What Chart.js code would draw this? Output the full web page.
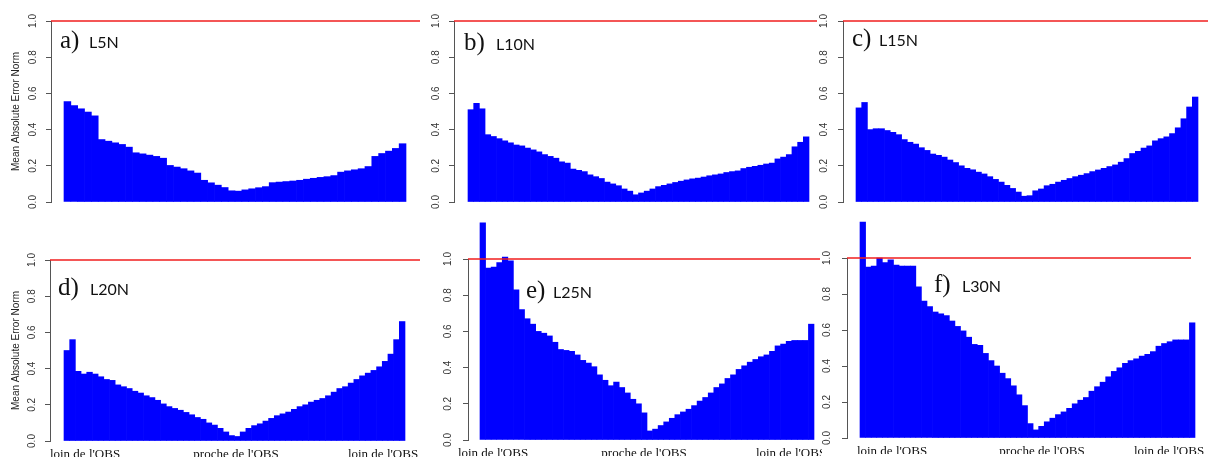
<!DOCTYPE html>
<html>
<head>
<meta charset="utf-8">
<script src="https://cdn.jsdelivr.net/npm/chart.js@4.4.1/dist/chart.umd.min.js"></script>
<style>
  body { margin: 0; background: #fff; }
  #fig { position: relative; width: 1208px; height: 459px; overflow: hidden; }
  #fig canvas { position: absolute; }
</style>
</head>
<body>
<div id="fig"></div>
<script>
const yTicks = [0, 0.2, 0.4, 0.6, 0.8, 1.0];
const xTickLabels = ["loin de l'OBS", "proche de l'OBS", "loin de l'OBS"];
const refLevel = 1.0;
const yTitle = 'Mean Absolute Error Norm';

// one value per bar, from left (far) through the OBS to right (far)
const l5n = [
  0.555, 0.533, 0.515, 0.497, 0.476,
  0.345, 0.336, 0.327, 0.318, 0.303,
  0.272, 0.266, 0.259, 0.252, 0.242,
  0.202, 0.193, 0.184, 0.172, 0.160,
  0.120, 0.106, 0.093, 0.080, 0.062,
  0.060, 0.067, 0.073, 0.079, 0.085,
  0.107, 0.110, 0.113, 0.116, 0.120,
  0.126, 0.131, 0.136, 0.140, 0.146,
  0.165, 0.172, 0.178, 0.184, 0.196,
  0.252, 0.268, 0.281, 0.296, 0.322
];
const l10n = [
  0.510, 0.545, 0.515, 0.372, 0.362, 0.350, 0.338, 0.327, 0.315, 0.310,
  0.298, 0.288, 0.277, 0.262, 0.252, 0.242, 0.222, 0.215, 0.182, 0.175,
  0.168, 0.150, 0.140, 0.130, 0.110, 0.100, 0.090, 0.072, 0.060, 0.040,
  0.050, 0.060, 0.072, 0.085, 0.092, 0.100, 0.108, 0.115, 0.122, 0.128,
  0.132, 0.138, 0.145, 0.150, 0.155, 0.163, 0.168, 0.172, 0.185, 0.192,
  0.197, 0.203, 0.210, 0.215, 0.238, 0.248, 0.262, 0.305, 0.330, 0.360
];
const l15n = [
  0.520, 0.550, 0.400, 0.405, 0.405, 0.395, 0.385, 0.372, 0.345, 0.330,
  0.320, 0.300, 0.285, 0.265, 0.258, 0.248, 0.232, 0.218, 0.200, 0.186,
  0.178, 0.165, 0.155, 0.140, 0.125, 0.110, 0.092, 0.075, 0.055, 0.032,
  0.035, 0.062, 0.072, 0.090, 0.098, 0.110, 0.120, 0.130, 0.140, 0.148,
  0.157, 0.168, 0.177, 0.186, 0.196, 0.205, 0.220, 0.240, 0.268, 0.280,
  0.298, 0.310, 0.338, 0.350, 0.360, 0.378, 0.410, 0.460, 0.525, 0.580
];
const l20n = [
  0.500, 0.560, 0.385, 0.370, 0.380, 0.370, 0.355, 0.340, 0.335, 0.310,
  0.300, 0.290, 0.275, 0.265, 0.250, 0.240, 0.225, 0.205, 0.190, 0.180,
  0.170, 0.158, 0.145, 0.130, 0.120, 0.100, 0.088, 0.070, 0.050, 0.030,
  0.025, 0.050, 0.070, 0.085, 0.095, 0.110, 0.125, 0.140, 0.150, 0.160,
  0.175, 0.190, 0.200, 0.215, 0.225, 0.235, 0.250, 0.270, 0.290, 0.300,
  0.320, 0.340, 0.360, 0.375, 0.390, 0.410, 0.440, 0.480, 0.560, 0.660
];
const l25n = [
  1.200, 0.950, 0.955, 0.980, 1.010, 0.990, 0.830, 0.720, 0.670, 0.640,
  0.600, 0.590, 0.575, 0.540, 0.500, 0.495, 0.490, 0.470, 0.440, 0.425,
  0.405, 0.360, 0.330, 0.300, 0.320, 0.290, 0.260, 0.225, 0.200, 0.150,
  0.050, 0.060, 0.080, 0.100, 0.120, 0.140, 0.155, 0.170, 0.190, 0.215,
  0.235, 0.260, 0.290, 0.310, 0.340, 0.360, 0.390, 0.410, 0.430, 0.445,
  0.460, 0.470, 0.490, 0.520, 0.530, 0.545, 0.550, 0.550, 0.550, 0.640
];
const l30n = [
  1.200, 0.950, 0.955, 1.000, 0.975, 0.990, 0.960, 0.955, 0.955, 0.955,
  0.840, 0.760, 0.730, 0.700, 0.690, 0.680, 0.650, 0.620, 0.595, 0.560,
  0.520, 0.515, 0.470, 0.430, 0.400, 0.360, 0.330, 0.290, 0.240, 0.180,
  0.080, 0.045, 0.065, 0.090, 0.110, 0.130, 0.145, 0.165, 0.190, 0.210,
  0.225, 0.260, 0.285, 0.310, 0.340, 0.370, 0.390, 0.415, 0.430, 0.440,
  0.455, 0.465, 0.480, 0.510, 0.525, 0.535, 0.545, 0.545, 0.545, 0.640
];

// page layout of the six panels (pixels)
const panels = [
  { tag: 'a)', name: 'L5N', values: l5n, box: [0, 0, 420, 215], axisX: 51, bars: [64, 406], areaR: 420, redR: 420, yPx: [21, 202], tickPad: 6, title: true, tagAt: [60, 89, 48] },
  { tag: 'b)', name: 'L10N', values: l10n, box: [420, 0, 397, 215], axisX: 454, bars: [468, 809], areaR: 817, redR: 817, yPx: [21, 202], tickPad: 6, tagAt: [464, 496, 50] },
  { tag: 'c)', name: 'L15N', values: l15n, box: [817, 0, 391, 215], axisX: 843, bars: [856, 1198], areaR: 1208, redR: 1208, yPx: [21, 202], tickPad: 7, tagAt: [852, 879, 46] },
  { tag: 'd)', name: 'L20N', values: l20n, box: [0, 215, 420, 244], axisX: 50, bars: [64, 405], areaR: 420, redR: 420, yPx: [260, 441], tickPad: 6, title: true, labelsAt: [85, 236, 383], tagAt: [58, 90, 295] },
  { tag: 'e)', name: 'L25N', values: l25n, box: [420, 215, 402, 244], axisX: 468, bars: [480, 814], areaR: 820, redR: 820, yPx: [259, 440], tickPad: 8, labelsAt: [493, 644, 791], tagAt: [526, 553, 298] },
  { tag: 'f)', name: 'L30N', values: l30n, box: [822, 215, 386, 244], axisX: 847, bars: [860, 1195], areaR: 1196, redR: 1191, yPx: [258, 438], tickPad: 8, labelsAt: [892, 1042, 1169], tagAt: [934, 962, 292] }
];

Chart.defaults.font.family = '"Liberation Sans", Arial, sans-serif';

const panelTag = {
  id: 'panelTag',
  afterDraw(chart, args, opts) {
    const ctx = chart.ctx;
    ctx.save();
    ctx.fillStyle = '#111';
    ctx.textBaseline = 'alphabetic';
    ctx.textAlign = 'left';
    ctx.font = '25px "Liberation Serif"';
    ctx.fillText(opts.tag, opts.tagX, opts.base);
    ctx.font = '16px Lato';
    ctx.fillText(opts.name, opts.nameX, opts.base);
    ctx.restore();
  }
};

const fig = document.getElementById('fig');

panels.forEach(p => {
  const [left, top, w, h] = p.box;
  const canvas = document.createElement('canvas');
  canvas.width = w;
  canvas.height = h;
  canvas.style.left = left + 'px';
  canvas.style.top = top + 'px';
  fig.appendChild(canvas);

  const n = p.values.length;
  const step = (p.bars[1] - p.bars[0]) / n;
  const toUnit = px => (px - p.bars[0]) / step - 0.5;
  const bottomRow = !!p.labelsAt;
  const xAxisH = bottomRow ? 16 : 0;
  const yAxisW = p.axisX - left;

  new Chart(canvas, {
    type: 'bar',
    data: {
      datasets: [
        {
          type: 'line',
          data: [{ x: toUnit(p.axisX), y: refLevel }, { x: toUnit(p.redR), y: refLevel }],
          borderColor: '#f01e1e',
          borderWidth: 1.5,
          pointRadius: 0,
          clip: false
        },
        {
          data: p.values.map((v, i) => ({ x: i, y: v })),
          backgroundColor: '#0000ff',
          barPercentage: 1,
          categoryPercentage: 1,
          borderWidth: 0,
          clip: false
        }
      ]
    },
    options: {
      responsive: false,
      animation: false,
      devicePixelRatio: 1,
      layout: {
        padding: {
          left: 0,
          right: left + w - p.areaR,
          top: p.yPx[0] - top,
          bottom: top + h - p.yPx[1] - xAxisH
        }
      },
      plugins: {
        legend: { display: false },
        tooltip: { enabled: false },
        panelTag: { tag: p.tag, name: p.name, tagX: p.tagAt[0] - left, nameX: p.tagAt[1] - left, base: p.tagAt[2] - top }
      },
      scales: {
        x: {
          type: 'linear',
          offset: false,
          min: toUnit(p.axisX),
          max: toUnit(p.areaR),
          display: bottomRow,
          grid: { display: false, drawTicks: false },
          border: { display: false },
          afterBuildTicks: s => {
            if (bottomRow) s.ticks = p.labelsAt.map(px => ({ value: toUnit(px) }));
          },
          afterFit: s => { s.height = xAxisH; s.paddingLeft = 0; s.paddingRight = 0; },
          ticks: {
            autoSkip: false,
            minRotation: 0,
            maxRotation: 0,
            padding: 6,
            color: '#111',
            font: { family: '"Liberation Serif", "Times New Roman", serif', size: 13 },
            callback: (v, i) => xTickLabels[i]
          }
        },
        y: {
          min: 0,
          max: 1,
          afterBuildTicks: s => { s.ticks = yTicks.map(v => ({ value: v })); },
          afterFit: s => { s.width = yAxisW; s.paddingTop = 0; s.paddingBottom = 0; },
          border: { display: true, color: '#555', width: 1 },
          grid: { drawOnChartArea: false, drawTicks: true, tickLength: 5, color: '#555' },
          ticks: {
            minRotation: 90,
            maxRotation: 90,
            crossAlign: 'center',
            padding: p.tickPad,
            color: '#333',
            font: { size: 10 },
            callback: v => v.toFixed(1)
          },
          title: {
            display: !!p.title,
            text: yTitle,
            color: '#222',
            font: { size: 10 },
            padding: { top: 10, bottom: 0 }
          }
        }
      }
    },
    plugins: [panelTag]
  });
});
</script>
</body>
</html>
